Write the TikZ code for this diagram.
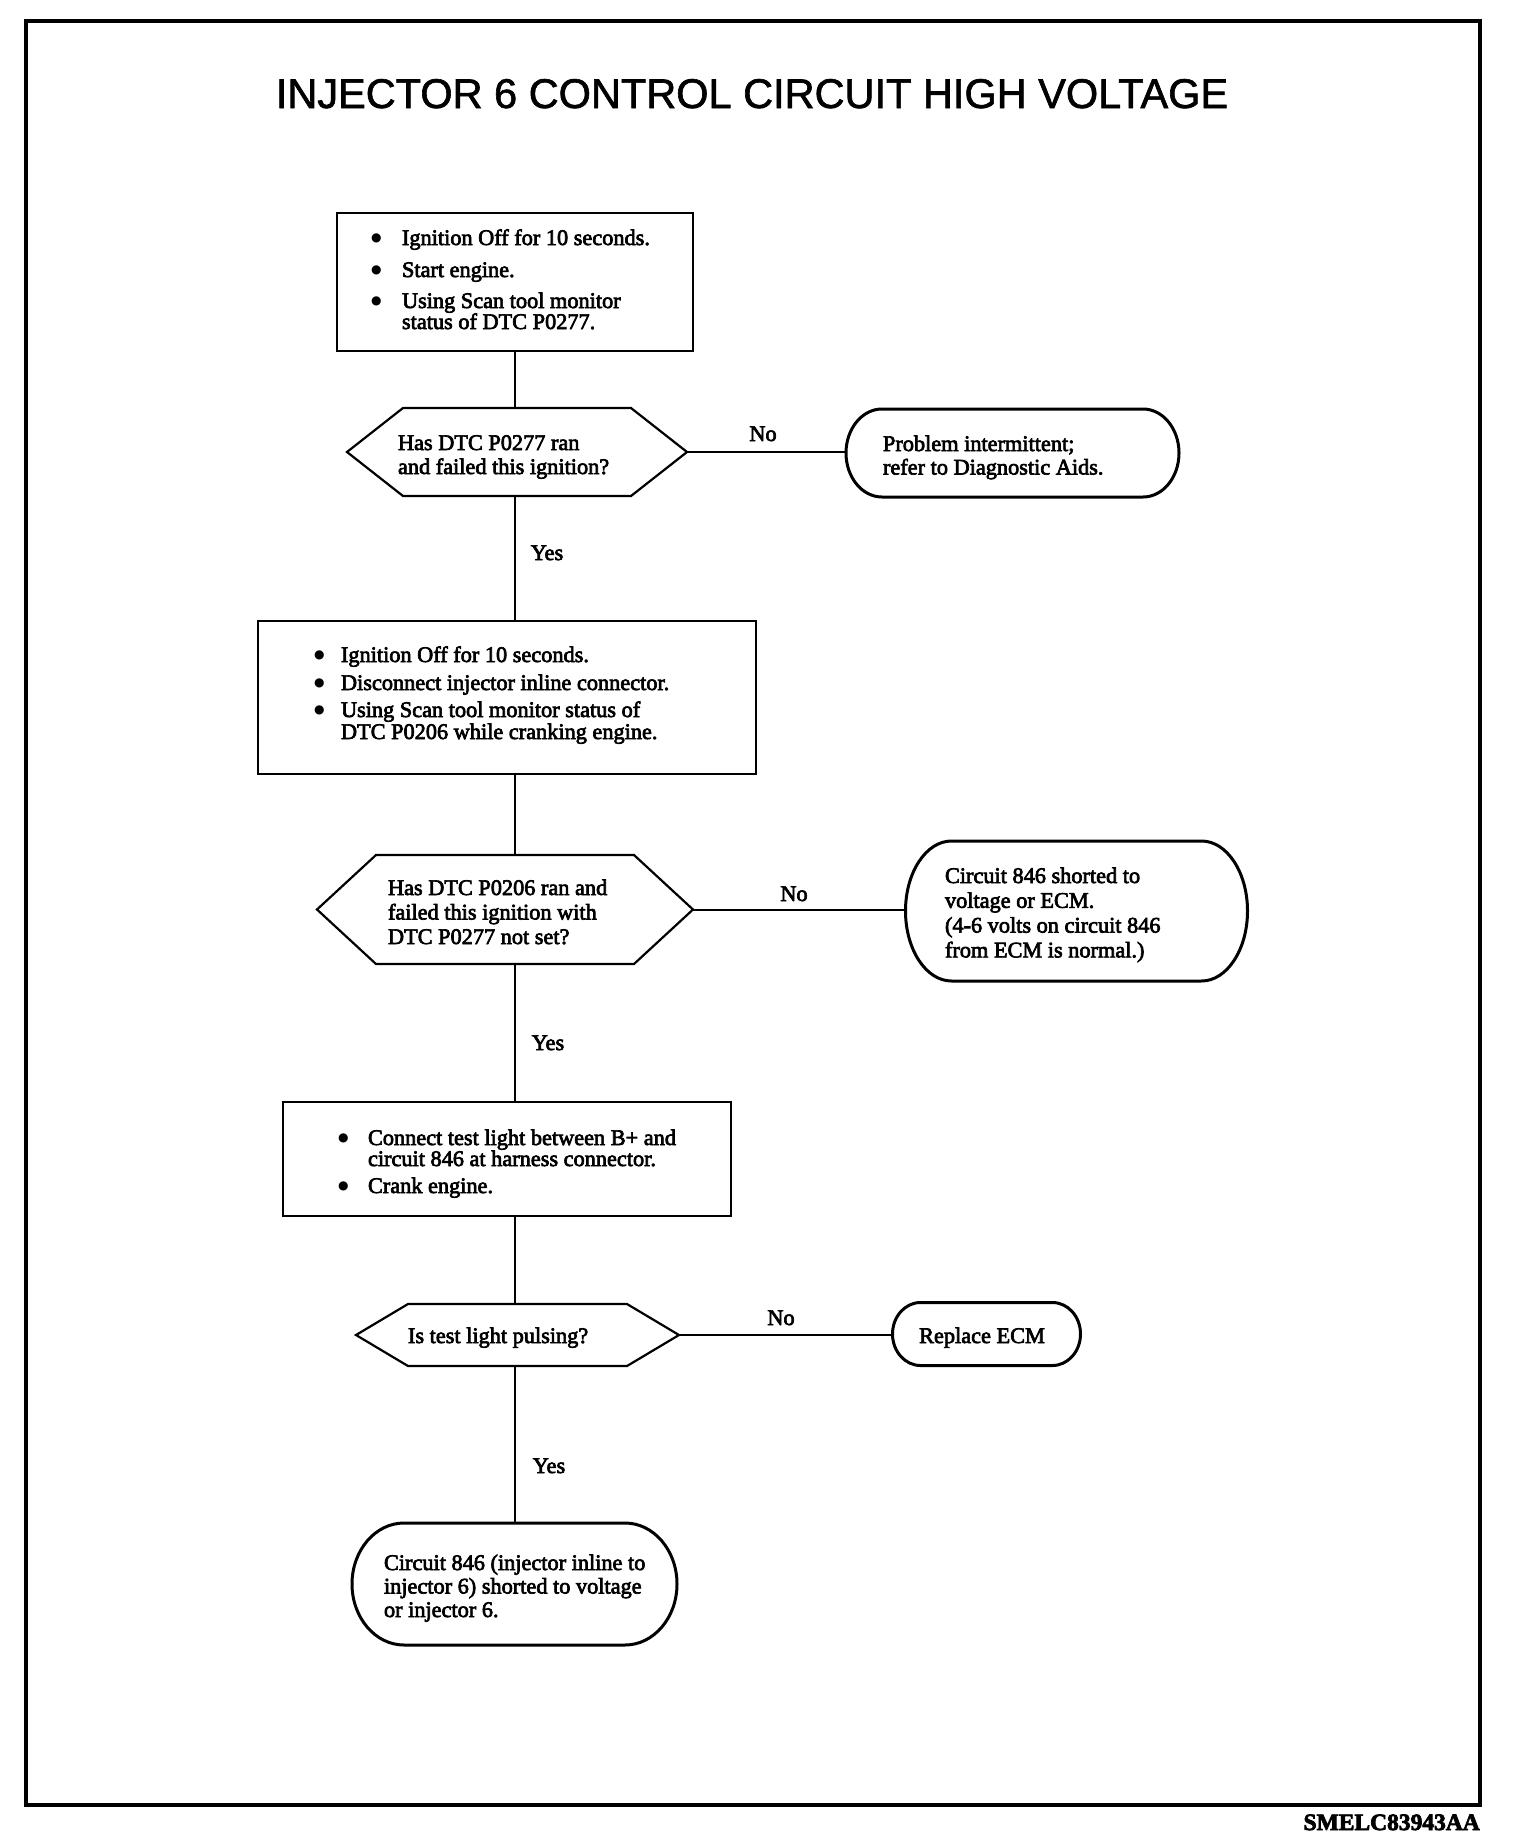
\documentclass[tikz,border=0pt]{standalone}
\usepackage{fontspec}
\setmainfont{Liberation Serif}[RawFeature={embolden=3}]
\newfontfamily\titlefont{Liberation Sans}[RawFeature={embolden=1.5}]
\newfontfamily\symfont{DejaVu Sans}
\usetikzlibrary{calc}
\newcommand\bodysize[1]{\fontsize{22.3}{#1}\selectfont\lineskiplimit=-100pt\lineskip=0pt\relax}
\newcommand\txtblock[2]{\parbox[t]{560pt}{\bodysize{#1}#2}}
\newcommand\bul[1]{\makebox[#1pt][l]{\hspace*{-1pt}\raisebox{3.5pt}{\symfont\fontsize{12}{12}\selectfont ●}}}
\newcommand\ind[1]{\hspace*{#1pt}}
\newcommand\hexshape[2]{%
  \draw[hexline] let \p1=(#1.north east), \p2=(#1.south west), \p3=(#1.east), \p4=(#1.west) in
  (\x4,\y4) -- (\x2+#2pt,\y1) -- (\x1-#2pt,\y1) -- (\x3,\y3) -- (\x1-#2pt,\y2) -- (\x2+#2pt,\y2) -- cycle;}
\newcommand\termshape[2]{%
  \draw[termline] let \p1=(#1.north east), \p2=(#1.south west), \p3=(#1.east), \p4=(#1.west) in
  (\x2+#2pt,\y1) -- (\x1-#2pt,\y1)
  .. controls (\x1-0.448*#2pt,\y1) and (\x1,{\y3+0.552*(\y1-\y3)}) .. (\x3,\y3)
  .. controls (\x1,{\y3-0.552*(\y3-\y2)}) and (\x1-0.448*#2pt,\y2) .. (\x1-#2pt,\y2)
  -- (\x2+#2pt,\y2)
  .. controls (\x2+0.448*#2pt,\y2) and (\x2,{\y4-0.552*(\y4-\y2)}) .. (\x4,\y4)
  .. controls (\x2,{\y4+0.552*(\y1-\y4)}) and (\x2+0.448*#2pt,\y1) .. (\x2+#2pt,\y1) -- cycle;}
\begin{document}
\begin{tikzpicture}[x=1pt,y=-1pt,
  stepbox/.style={draw,line width=2.6pt,inner sep=0pt,outer sep=0pt},
  area/.style={draw=none,inner sep=0pt,outer sep=0pt},
  hexline/.style={line width=2.2pt,line join=miter},
  termline/.style={line width=3pt},
  conn/.style={line width=2pt},
  txt/.style={inner sep=0pt,outer sep=0pt,anchor=base west},
  lbl/.style={inner sep=0pt,outer sep=0pt,anchor=base,font=\bodysize{24}}]
\useasboundingbox (0,0) rectangle (1520,1844);
\fill[white] (0,0) rectangle (1520,1844);
\node[area,minimum width=1454pt,minimum height=1784pt] (frame) at (753,913) {};
\draw[line width=4.5pt] (frame.north west) rectangle (frame.south east);
\node[inner sep=0pt,anchor=base,font=\titlefont\fontsize{41.5}{44}\selectfont] (title) at (752,108) {INJECTOR 6 CONTROL CIRCUIT HIGH VOLTAGE};
% boxes
\node[stepbox,minimum width=356pt,minimum height=138pt] (b1) at (515,282) {};
\node[stepbox,minimum width=498pt,minimum height=153pt] (b2) at (507,697.5) {};
\node[stepbox,minimum width=448pt,minimum height=114pt] (b3) at (507,1159) {};
% decisions
\node[area,minimum width=340pt,minimum height=88pt] (h1) at (517,452) {};
\node[area,minimum width=376pt,minimum height=109pt] (h2) at (505,909.5) {};
\node[area,minimum width=323pt,minimum height=62pt] (h3) at (517.5,1335) {};
\hexshape{h1}{56}
\hexshape{h2}{59}
\hexshape{h3}{52}
% terminals
\node[area,minimum width=333pt,minimum height=88pt] (t1) at (1012.5,453) {};
\node[area,minimum width=342pt,minimum height=140pt] (t2) at (1076.5,911) {};
\node[area,minimum width=188pt,minimum height=63pt] (t3) at (986.5,1334) {};
\node[area,minimum width=325pt,minimum height=122pt] (t4) at (514.5,1584) {};
\termshape{t1}{36}
\termshape{t2}{46}
\termshape{t3}{28}
\termshape{t4}{52}
% connectors
\draw[conn] (b1.south) -- (b1.south |- h1.north);
\draw[conn] (b1.south |- h1.south) -- (b1.south |- b2.north);
\draw[conn] (b1.south |- b2.south) -- (b1.south |- h2.north);
\draw[conn] (b1.south |- h2.south) -- (b1.south |- b3.north);
\draw[conn] (b1.south |- b3.south) -- (b1.south |- h3.north);
\draw[conn] (b1.south |- h3.south) -- (b1.south |- t4.north);
\draw[conn] (h1.east) -- (h1.east -| t1.west);
\draw[conn] (h2.east) -- (h2.east -| t2.west);
\draw[conn] (h3.east) -- (h3.east -| t3.west);
% texts
\node[txt] (b1t) at (372,245) {\txtblock{21}{\bul{30}Ignition Off for 10 seconds.\\[11pt]
\bul{30}Start engine.\\[10pt]
\bul{30}Using Scan tool monitor\\
\ind{30}status of DTC P0277.}};
\node[txt] (h1t) at (398,450) {\txtblock{24}{Has DTC P0277 ran\\and failed this ignition?}};
\node[txt] (t1t) at (883,451) {\txtblock{23.5}{Problem intermittent;\\refer to Diagnostic Aids.}};
\node[txt] (b2t) at (315,662) {\txtblock{22}{\bul{26}Ignition Off for 10 seconds.\\[6pt]
\bul{26}Disconnect injector inline connector.\\[5pt]
\bul{26}Using Scan tool monitor status of\\
\ind{26}DTC P0206 while cranking engine.}};
\node[txt] (h2t) at (388,895) {\txtblock{24.5}{Has DTC P0206 ran and\\failed this ignition with\\DTC P0277 not set?}};
\node[txt] (t2t) at (945,883) {\txtblock{24.8}{Circuit 846 shorted to\\voltage or ECM.\\(4-6 volts on circuit 846\\from ECM is normal.)}};
\node[txt] (b3t) at (339,1145) {\txtblock{21}{\bul{29}Connect test light between B+ and\\
\ind{29}circuit 846 at harness connector.\\[6pt]
\bul{29}Crank engine.}};
\node[txt] (h3t) at (408,1343) {\txtblock{24}{Is test light pulsing?}};
\node[inner sep=0pt,anchor=base,font=\bodysize{24}] (t3t) at (982,1343) {Replace ECM};
\node[txt] (t4t) at (384,1570) {\txtblock{23.5}{Circuit 846 (injector inline to\\injector 6) shorted to voltage\\or injector 6.}};
% labels
\node[lbl] (no1) at (763,441) {No};
\node[lbl] (no2) at (794,901) {No};
\node[lbl] (no3) at (781,1325) {No};
\node[lbl] (yes1) at (547,560) {Yes};
\node[lbl] (yes2) at (548,1050) {Yes};
\node[lbl] (yes3) at (549,1473) {Yes};
\node[inner sep=0pt,anchor=base east,font=\bfseries\fontsize{23.5}{25}\selectfont] (code) at (1480,1830) {SMELC83943AA};
\end{tikzpicture}
\end{document}
